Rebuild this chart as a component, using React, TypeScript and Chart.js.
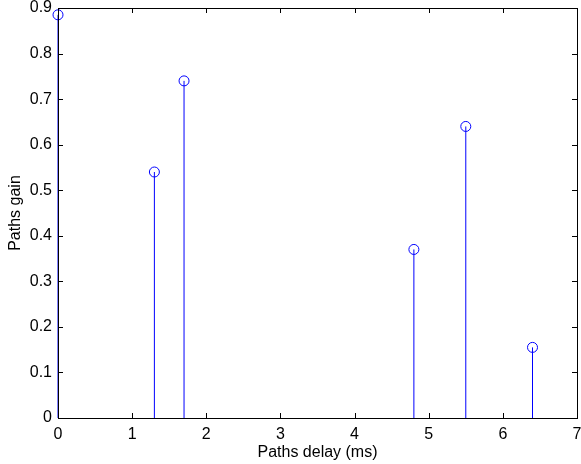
import React, { useEffect, useRef } from "react";
import { Chart, registerables } from "chart.js";

Chart.register(...registerables);

const delays = [0, 1.3, 1.7, 4.8, 5.5, 6.4];
const gains = [0.885, 0.54, 0.74, 0.37, 0.64, 0.155];
const xTicks = [0, 1, 2, 3, 4, 5, 6, 7];
const yTicks = [0, 0.1, 0.2, 0.3, 0.4, 0.5, 0.6, 0.7, 0.8, 0.9];

const BLUE = "#0000ff";
const FONT = "'Liberation Sans', Arial, Helvetica, sans-serif";
const FS = 16;

const boxTicksPlugin = {
  id: "boxTicks",
  afterDatasetsDraw(chart: any) {
    const { ctx, chartArea: a, scales } = chart;
    const len = 5;
    ctx.save();
    ctx.strokeStyle = "#000";
    ctx.lineWidth = 1;
    ctx.beginPath();
    for (const t of xTicks) {
      const px = Math.round(scales.x.getPixelForValue(t)) + 0.5;
      ctx.moveTo(px, a.bottom);
      ctx.lineTo(px, a.bottom - len);
      ctx.moveTo(px, a.top);
      ctx.lineTo(px, a.top + len);
    }
    for (const t of yTicks) {
      const py = Math.round(scales.y.getPixelForValue(t)) + 0.5;
      ctx.moveTo(a.left, py);
      ctx.lineTo(a.left + len, py);
      ctx.moveTo(a.right, py);
      ctx.lineTo(a.right - len, py);
    }
    ctx.stroke();
    ctx.strokeRect(
      Math.round(a.left) + 0.5,
      Math.round(a.top) + 0.5,
      Math.round(a.right - a.left),
      Math.round(a.bottom - a.top)
    );
    ctx.restore();
  },
};

export default function App() {
  const ref = useRef<HTMLCanvasElement>(null);
  useEffect(() => {
    document.body.style.margin = "0";
    const stems = delays.map((d, i) => ({
      type: "line" as const,
      data: [
        { x: d, y: 0 },
        { x: d, y: gains[i] },
      ],
      borderColor: BLUE,
      borderWidth: 1,
      pointRadius: 0,
      fill: false,
      clip: false,
    }));
    const chart = new Chart(ref.current!, {
      type: "scatter",
      data: {
        datasets: [
          ...stems,
          {
            type: "scatter" as const,
            data: delays.map((d, i) => ({ x: d, y: gains[i] })),
            borderColor: BLUE,
            backgroundColor: "rgba(0,0,0,0)",
            borderWidth: 1,
            pointRadius: 5,
            pointStyle: "circle",
            clip: false,
          },
        ] as any,
      },
      options: {
        animation: false,
        responsive: false,
        devicePixelRatio: 1,
        layout: { autoPadding: false, padding: { top: 8, right: 4, left: 0, bottom: 0 } },
        plugins: {
          legend: { display: false },
          tooltip: { enabled: false },
        },
        scales: {
          x: {
            type: "linear",
            min: 0,
            max: 7,
            afterBuildTicks: (s: any) => {
              s.ticks = xTicks.map((v) => ({ value: v }));
            },
            afterFit: (s: any) => {
              s.height = 46;
              s.paddingLeft = 0;
              s.paddingRight = 0;
            },
            grid: { display: false, drawTicks: false },
            border: { display: false },
            ticks: {
              color: "#000",
              font: { family: FONT, size: FS },
              padding: 7,
              maxRotation: 0,
              callback: (v: any) => String(v),
            },
            title: {
              display: true,
              text: "Paths delay (ms)",
              color: "#000",
              font: { family: FONT, size: FS },
              padding: { top: 0, bottom: 2 },
            },
          },
          y: {
            type: "linear",
            min: 0,
            max: 0.9,
            afterBuildTicks: (s: any) => {
              s.ticks = yTicks.map((v) => ({ value: v }));
            },
            afterFit: (s: any) => {
              s.width = 58;
              s.paddingTop = 0;
              s.paddingBottom = 0;
            },
            grid: { display: false, drawTicks: false },
            border: { display: false },
            ticks: {
              color: "#000",
              font: { family: FONT, size: FS },
              padding: 6,
              callback: (v: any) => (v === 0 ? "0" : Number(v).toFixed(1)),
            },
            title: {
              display: true,
              text: "Paths gain",
              color: "#000",
              font: { family: FONT, size: FS },
              padding: { top: 6, bottom: 0 },
            },
          },
        },
      },
      plugins: [boxTicksPlugin],
    });
    return () => chart.destroy();
  }, []);
  return (
    <div style={{ width: 581, height: 464, background: "#fff" }}>
      <canvas ref={ref} width={581} height={464} style={{ display: "block" }} />
    </div>
  );
}
